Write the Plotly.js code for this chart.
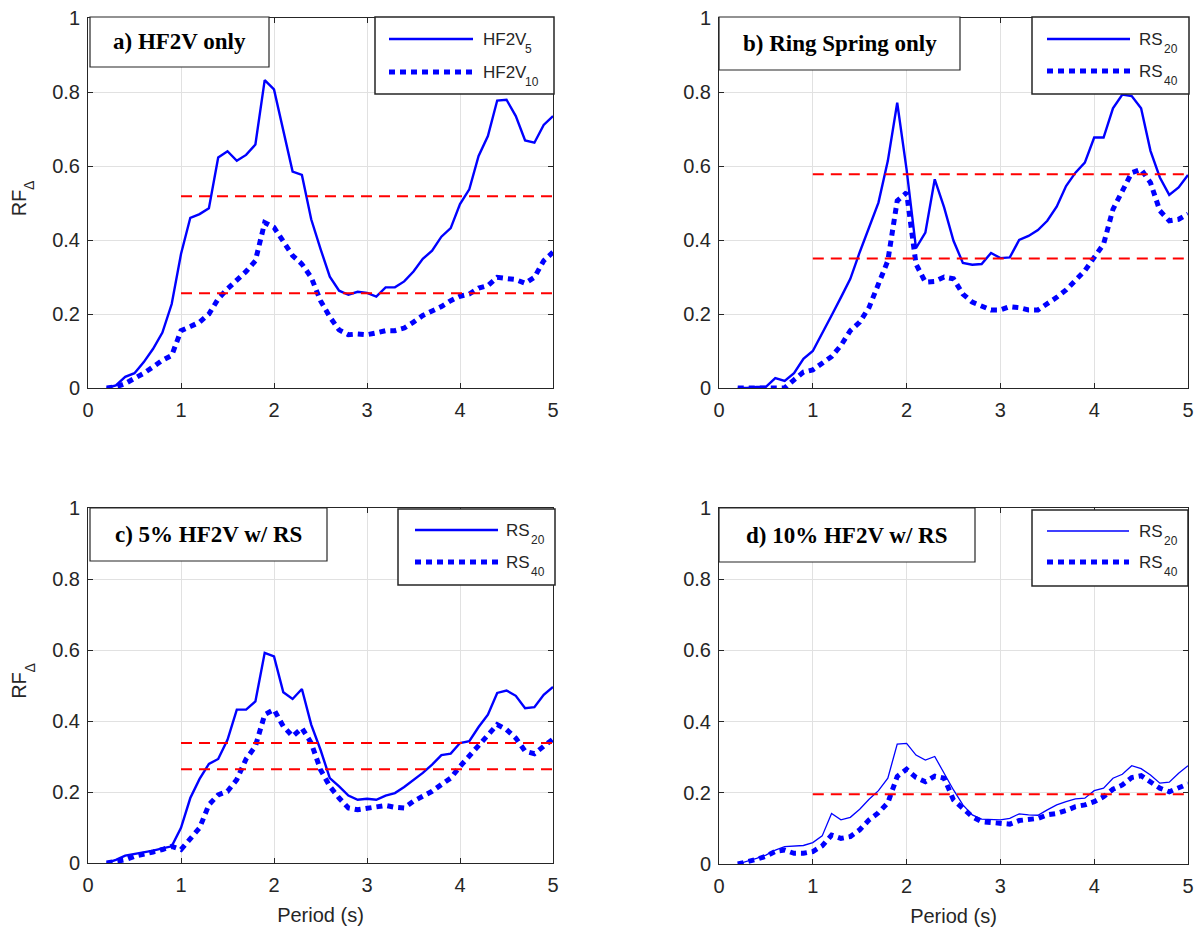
<!DOCTYPE html>
<html>
<head>
<meta charset="utf-8">
<script src="https://cdn.plot.ly/plotly-3.0.1.min.js"></script>
<style>html,body{margin:0;padding:0;background:#fff;}#chart{width:1195px;height:933px;}</style>
</head>
<body>
<div id="chart"></div>
<script>
// Period (s)
const period = [0.2,0.3,0.4,0.5,0.6,0.7,0.8,0.9,1.0,
  1.1,1.2,1.3,1.4,1.5,1.6,1.7,1.8,1.9,2.0,
  2.1,2.2,2.3,2.4,2.5,2.6,2.7,2.8,2.9,3.0,
  3.1,3.2,3.3,3.4,3.5,3.6,3.7,3.8,3.9,4.0,
  4.1,4.2,4.3,4.4,4.5,4.6,4.7,4.8,4.9,5.0];

// a) HF2V only
const a_hf2v5 = [0,0.007,0.03,0.04,0.07,0.106,0.15,0.227,0.362,
  0.46,0.47,0.486,0.623,0.64,0.614,0.63,0.658,0.832,0.807,
  0.695,0.585,0.576,0.456,0.376,0.301,0.263,0.252,0.26,0.257,
  0.247,0.272,0.272,0.288,0.315,0.349,0.371,0.409,0.432,0.497,
  0.537,0.627,0.681,0.777,0.779,0.735,0.669,0.663,0.711,0.735];
const a_hf2v10 = [0,0.003,0.012,0.025,0.04,0.057,0.075,0.088,0.155,
  0.166,0.178,0.2,0.241,0.268,0.29,0.315,0.344,0.447,0.434,
  0.398,0.358,0.335,0.299,0.236,0.192,0.157,0.144,0.146,0.144,
  0.149,0.155,0.155,0.162,0.178,0.196,0.208,0.22,0.236,0.248,
  0.254,0.27,0.277,0.299,0.296,0.293,0.283,0.299,0.344,0.367];
const a_means = [0.518, 0.256];

// b) Ring Spring only
const b_rs20 = [0,0,0.003,0.003,0.027,0.019,0.04,0.079,0.1,
  0.146,0.196,0.245,0.295,0.367,0.434,0.501,0.614,0.771,0.59,
  0.378,0.42,0.564,0.488,0.398,0.338,0.333,0.335,0.365,0.351,
  0.353,0.4,0.411,0.427,0.452,0.49,0.546,0.582,0.609,0.677,
  0.677,0.756,0.793,0.789,0.756,0.641,0.569,0.522,0.542,0.576];
const b_rs40 = [0,0,0,0,0,0,0.022,0.043,0.049,
  0.066,0.085,0.115,0.155,0.178,0.218,0.281,0.344,0.506,0.528,
  0.335,0.286,0.288,0.3,0.295,0.254,0.232,0.22,0.211,0.211,
  0.22,0.217,0.211,0.211,0.227,0.245,0.265,0.29,0.317,0.353,
  0.389,0.483,0.533,0.582,0.591,0.555,0.479,0.452,0.456,0.47];
const b_means = [0.578, 0.35];

// c) 5% HF2V w/ RS
const c_rs20 = [0,0.009,0.021,0.025,0.03,0.035,0.041,0.047,0.099,
  0.183,0.237,0.279,0.293,0.347,0.432,0.432,0.455,0.592,0.582,
  0.481,0.462,0.49,0.39,0.319,0.239,0.216,0.19,0.178,0.181,
  0.178,0.19,0.197,0.214,0.233,0.254,0.277,0.304,0.308,0.338,
  0.343,0.383,0.418,0.479,0.486,0.471,0.436,0.439,0.474,0.496];
const c_rs40 = [0,0.004,0.009,0.019,0.024,0.031,0.038,0.047,0.038,
  0.07,0.099,0.164,0.192,0.202,0.235,0.293,0.329,0.418,0.432,
  0.385,0.357,0.38,0.338,0.263,0.216,0.183,0.155,0.15,0.153,
  0.157,0.162,0.157,0.155,0.174,0.188,0.202,0.221,0.239,0.272,
  0.302,0.329,0.357,0.39,0.376,0.352,0.315,0.308,0.329,0.349];
const c_means = [0.338, 0.264];

// d) 10% HF2V w/ RS
const d_rs20 = [0,0.007,0.016,0.025,0.039,0.049,0.051,0.052,0.06,
  0.079,0.142,0.124,0.131,0.154,0.182,0.206,0.241,0.337,0.339,
  0.306,0.292,0.302,0.255,0.208,0.166,0.138,0.126,0.124,0.124,
  0.128,0.141,0.138,0.137,0.152,0.166,0.175,0.183,0.185,0.206,
  0.213,0.241,0.252,0.276,0.268,0.25,0.227,0.23,0.255,0.276];
const d_rs40 = [0,0.005,0.013,0.022,0.035,0.039,0.03,0.03,0.035,
  0.051,0.081,0.072,0.077,0.096,0.124,0.144,0.172,0.246,0.266,
  0.243,0.231,0.247,0.241,0.18,0.157,0.133,0.119,0.117,0.117,
  0.112,0.122,0.124,0.128,0.138,0.142,0.15,0.161,0.166,0.175,
  0.189,0.21,0.222,0.243,0.248,0.231,0.213,0.203,0.213,0.225];
const d_means = [0.196];

const meanSpan = [1, 5];
const xTicks = [0,1,2,3,4,5];
const yTicks = [0,0.2,0.4,0.6,0.8,1];
const yTickText = ['0','0.2','0.4','0.6','0.8','1'];

const panelTitles = ['a) HF2V only','b) Ring Spring only','c) 5% HF2V w/ RS','d) 10% HF2V w/ RS'];
// legend labels: base text and subscript
const legendBase = [['HF2V','HF2V'],['RS','RS'],['RS','RS'],['RS','RS']];
const legendSub = [['5','10'],['20','40'],['20','40'],['20','40']];
const yTitleBase = 'RF';
const yTitleSub = 'Δ';

const W = 1195, H = 933;
const PX = v => v / W;
const PY = v => 1 - v / H;

const BLUE = '#0000ff', RED = '#ff0000', AX = '#262626';
const SANS = 'Liberation Sans, Arial, Helvetica, sans-serif';
const SERIF = 'Liberation Serif, Times New Roman, serif';

const panels = [
  {s1:a_hf2v5, s2:a_hf2v10, means:a_means, solidW:2.4},
  {s1:b_rs20, s2:b_rs40, means:b_means, solidW:2.4},
  {s1:c_rs20, s2:c_rs40, means:c_means, solidW:2.4},
  {s1:d_rs20, s2:d_rs40, means:d_means, solidW:1.3}
];

// pixel geometry of each panel's plot area
const geo = [
  {l:88, r:553, t:18, b:388},
  {l:719, r:1188, t:18, b:388},
  {l:88, r:553, t:508, b:863},
  {l:719, r:1188, t:508, b:864}
];
// title boxes and legend boxes (pixels)
const tbox = [
  {l:90, r:269, t:17, b:67},
  {l:719, r:960, t:17, b:70},
  {l:90, r:327, t:508, b:561},
  {l:719, r:975, t:508, b:562}
];
const lbox = [
  {l:375, r:554, t:17, b:94, s0:389, s1:473, y1:39, y2:72, tx:481, sx:[523,523]},
  {l:1032, r:1189, t:17, b:94, s0:1047, s1:1130, y1:39, y2:71, tx:1137, sx:[1162,1162]},
  {l:398, r:555, t:509, b:585, s0:415, s1:498, y1:530, y2:562, tx:504, sx:[529,529]},
  {l:1032, r:1188, t:510, b:586, s0:1047, s1:1129, y1:531, y2:562, tx:1137, sx:[1162,1162]}
];

const traces = [];
const layout = {
  width: W, height: H,
  margin: {l:0, r:0, t:0, b:0},
  paper_bgcolor: '#fff', plot_bgcolor: '#fff',
  showlegend: false,
  shapes: [], annotations: []
};

panels.forEach((p, i) => {
  const n = i === 0 ? '' : String(i + 1);
  const xa = 'x' + n, ya = 'y' + n;
  traces.push({x: period, y: p.s1, xaxis: xa, yaxis: ya, type: 'scatter', mode: 'lines',
    name: legendBase[i][0] + legendSub[i][0], line: {color: BLUE, width: p.solidW}});
  traces.push({x: period, y: p.s2, xaxis: xa, yaxis: ya, type: 'scatter', mode: 'lines',
    name: legendBase[i][1] + legendSub[i][1], line: {color: BLUE, width: 5, dash: '6px,5px'}});
  p.means.forEach(m => {
    traces.push({x: meanSpan, y: [m, m], xaxis: xa, yaxis: ya, type: 'scatter', mode: 'lines',
      name: 'mean', line: {color: RED, width: 2, dash: '11px,7px'}});
  });
  const g = geo[i];
  const common = {
    showline: true, linecolor: AX, linewidth: 1, mirror: 'allticks',
    ticks: 'inside', ticklen: 5, tickcolor: AX, tickwidth: 1,
    showgrid: true, gridcolor: '#e1e1e1', gridwidth: 1, zeroline: false,
    tickfont: {family: SANS, size: 20, color: AX}, fixedrange: true
  };
  const xax = Object.assign({}, common, {
    domain: [PX(g.l), PX(g.r)], anchor: ya, range: [0, 5],
    tickmode: 'array', tickvals: xTicks, ticktext: xTicks.map(String),
    ticklabelstandoff: 4
  });
  if (i >= 2) xax.title = {text: 'Period (s)', font: {family: SANS, size: 20, color: AX}, standoff: 12};
  const yax = Object.assign({}, common, {
    domain: [PY(g.b), PY(g.t)], anchor: xa, range: [0, 1],
    tickmode: 'array', tickvals: yTicks, ticktext: yTickText,
    ticklabelstandoff: 3
  });
  if (i % 2 === 0) {
    yax.title = {text: yTitleBase, font: {family: SANS, size: 20, color: AX}, standoff: 20};
    // subscript of the y title (rotated, above "RF")
    layout.annotations.push({xref: 'paper', yref: 'paper', x: PX(29), y: PY((g.t + g.b) / 2 - 17),
      xanchor: 'center', yanchor: 'middle', showarrow: false, textangle: -90, text: yTitleSub,
      font: {family: SANS, size: 14, color: AX}});
  }
  layout['xaxis' + n] = xax;
  layout['yaxis' + n] = yax;

  // panel title box
  const tb = tbox[i];
  layout.shapes.push({type: 'rect', xref: 'paper', yref: 'paper', layer: 'above',
    x0: PX(tb.l), x1: PX(tb.r), y0: PY(tb.b), y1: PY(tb.t),
    line: {color: AX, width: 1.2}, fillcolor: '#fff'});
  layout.annotations.push({xref: 'paper', yref: 'paper', x: PX((tb.l + tb.r) / 2), y: PY((tb.t + tb.b) / 2),
    xanchor: 'center', yanchor: 'middle', showarrow: false, text: '<b>' + panelTitles[i] + '</b>',
    font: {family: SERIF, size: 23, color: '#000'}});

  // legend box
  const lb = lbox[i];
  layout.shapes.push({type: 'rect', xref: 'paper', yref: 'paper', layer: 'above',
    x0: PX(lb.l), x1: PX(lb.r), y0: PY(lb.b), y1: PY(lb.t),
    line: {color: AX, width: 1.5}, fillcolor: '#fff'});
  layout.shapes.push({type: 'line', xref: 'paper', yref: 'paper', layer: 'above',
    x0: PX(lb.s0), x1: PX(lb.s1), y0: PY(lb.y1), y1: PY(lb.y1),
    line: {color: BLUE, width: p.solidW}});
  layout.shapes.push({type: 'line', xref: 'paper', yref: 'paper', layer: 'above',
    x0: PX(lb.s0), x1: PX(lb.s1), y0: PY(lb.y2), y1: PY(lb.y2),
    line: {color: BLUE, width: 5, dash: '6px,5px'}});
  [lb.y1, lb.y2].forEach((yy, k) => {
    layout.annotations.push({xref: 'paper', yref: 'paper', x: PX(lb.tx), y: PY(yy),
      xanchor: 'left', yanchor: 'middle', showarrow: false, text: legendBase[i][k],
      font: {family: SANS, size: 17, color: AX}});
    layout.annotations.push({xref: 'paper', yref: 'paper', x: PX(lb.sx[k]), y: PY(yy + 10),
      xanchor: 'left', yanchor: 'middle', showarrow: false, text: legendSub[i][k],
      font: {family: SANS, size: 12, color: AX}});
  });
});

Plotly.newPlot('chart', traces, layout, {displayModeBar: false, staticPlot: true});
</script>
</body>
</html>
